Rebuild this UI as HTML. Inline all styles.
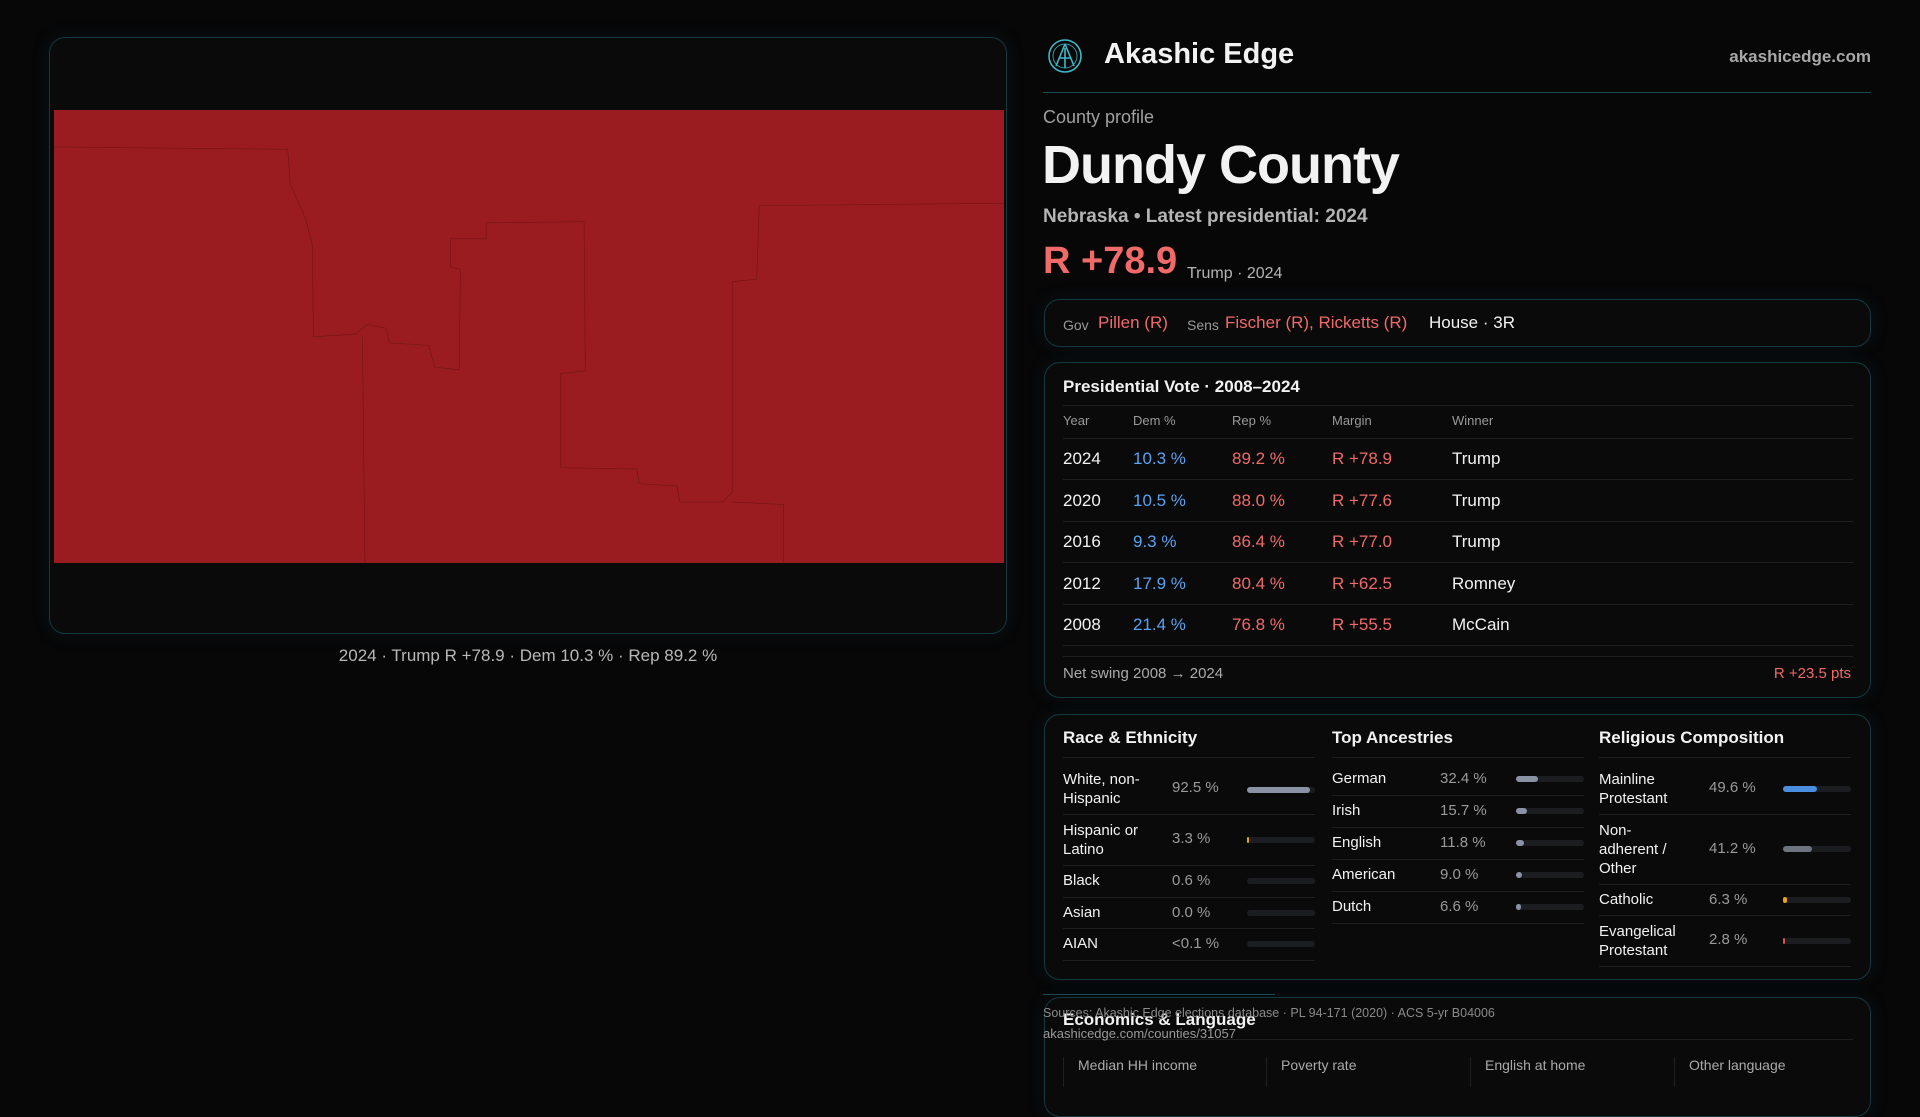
<!DOCTYPE html>
<html><head><meta charset="utf-8"><style>
*{margin:0;padding:0;box-sizing:border-box}
body{width:1920px;height:1080px;background:#070708;color:#f2f2f2;font-family:"Liberation Sans",sans-serif;position:relative;overflow:hidden}
.a{position:absolute;white-space:nowrap}
.box{position:absolute;border:1px solid #163840;border-radius:16px;background:#0a0a0b;box-shadow:0 0 18px rgba(30,90,100,0.15)}
.red{color:#f06a6a}.blue{color:#5aa2f0}.gray{color:#9a9a9a}
.hl{position:absolute;height:1px;background:#1e1f22}
.bar{position:absolute;height:6px;border-radius:3px;background:#1c1d20;width:68px}
.bar i{position:absolute;left:0;top:0;height:6px;border-radius:3px;display:block}
</style></head><body>
<div class="box" style="left:49px;top:37px;width:958px;height:597px;background:#0a0a0b"></div>
<div class="a" style="left:54px;top:110px;width:950px;height:453px;background:#9b1c20"></div>
<svg class="a" style="left:0;top:0" width="1920" height="1080" viewBox="0 0 1568 882" fill="none" stroke="#6e1418" stroke-width="0.6" opacity="0.8">
<polyline points="44,120 235,122 237,150 250,180 255,200 256,275 290,273 300,265 315,268 318,280 350,282 355,300 375,302 376,220 368,218 368,195 397,195 397,182 477,181 478,303 458,305 458,382 520,383 522,395 553,397 555,410 590,410 598,402 598,230 618,228 620,168 820,166"/>
<polyline points="296,275 298,460"/>
<polyline points="598,410 640,412 640,460"/>
</svg>
<div class="a gray" style="left:0;width:1056px;text-align:center;top:646px;font-size:17px;color:#b8b8b8">2024 · Trump R +78.9 · Dem 10.3 % · Rep 89.2 %</div>

<svg class="a" style="left:1047px;top:38px" width="36" height="36" viewBox="0 0 36 36" fill="none" stroke="#3fb8c8" stroke-width="1.6"><circle cx="18" cy="18" r="16"/><circle cx="18" cy="18" r="12" stroke-width="0.8"/><path d="M18 6 L9 28 M18 6 L27 28 M12 20 H24 M18 10 V30"/></svg>
<div class="a" style="left:1104px;top:38px;font-size:29px;font-weight:bold">Akashic Edge</div>
<div class="a" style="right:49px;top:47px;font-size:17px;color:#a8a8a8;font-weight:bold">akashicedge.com</div>
<div class="a" style="left:1043px;top:92px;width:828px;height:1px;background:#1b4a52"></div>
<div class="a" style="left:1043px;top:107px;font-size:18px;color:#a0a0a0">County profile</div>
<div class="a" style="left:1042px;top:134px;font-size:54px;font-weight:bold;letter-spacing:-1px">Dundy County</div>
<div class="a" style="left:1043px;top:206px;font-size:19px;color:#b4b4b4;font-weight:bold">Nebraska • Latest presidential: 2024</div>
<div class="a red" style="left:1043px;top:240px;font-size:38px;font-weight:bold">R +78.9</div>
<div class="a" style="left:1187px;top:265px;font-size:16px;color:#b4b4b4">Trump · 2024</div>

<div class="box" style="left:1044px;top:299px;width:827px;height:48px"></div>
<div class="a" style="left:1063px;top:317px;font-size:14px;color:#999">Gov</div>
<div class="a red" style="left:1098px;top:313px;font-size:17px">Pillen (R)</div>
<div class="a" style="left:1187px;top:317px;font-size:14px;color:#999">Sens</div>
<div class="a red" style="left:1225px;top:313px;font-size:17px">Fischer (R), Ricketts (R)</div>
<div class="a" style="left:1429px;top:313px;font-size:17px">House · 3R</div>

<div class="box" style="left:1044px;top:362px;width:827px;height:336px"></div>
<div class="a" style="left:1063px;top:377px;font-size:17px;font-weight:bold">Presidential Vote · 2008–2024</div>
<div class="hl" style="left:1063px;top:405px;width:790px"></div>
<div class="a" style="left:1063px;top:413px;font-size:13px;color:#999">Year</div>
<div class="a" style="left:1133px;top:413px;font-size:13px;color:#999">Dem %</div>
<div class="a" style="left:1232px;top:413px;font-size:13px;color:#999">Rep %</div>
<div class="a" style="left:1332px;top:413px;font-size:13px;color:#999">Margin</div>
<div class="a" style="left:1452px;top:413px;font-size:13px;color:#999">Winner</div>
<div class="hl" style="left:1063px;top:438px;width:790px"></div>
<div style="position:absolute;left:0;top:449px;font-size:17px">
<div class="a" style="left:1063px;top:0">2024</div><div class="a blue" style="left:1133px;top:0">10.3 %</div><div class="a red" style="left:1232px;top:0">89.2 %</div><div class="a red" style="left:1332px;top:0">R +78.9</div><div class="a" style="left:1452px;top:0">Trump</div>
<div class="a" style="left:1063px;top:42px">2020</div><div class="a blue" style="left:1133px;top:42px">10.5 %</div><div class="a red" style="left:1232px;top:42px">88.0 %</div><div class="a red" style="left:1332px;top:42px">R +77.6</div><div class="a" style="left:1452px;top:42px">Trump</div>
<div class="a" style="left:1063px;top:83px">2016</div><div class="a blue" style="left:1133px;top:83px">9.3 %</div><div class="a red" style="left:1232px;top:83px">86.4 %</div><div class="a red" style="left:1332px;top:83px">R +77.0</div><div class="a" style="left:1452px;top:83px">Trump</div>
<div class="a" style="left:1063px;top:125px">2012</div><div class="a blue" style="left:1133px;top:125px">17.9 %</div><div class="a red" style="left:1232px;top:125px">80.4 %</div><div class="a red" style="left:1332px;top:125px">R +62.5</div><div class="a" style="left:1452px;top:125px">Romney</div>
<div class="a" style="left:1063px;top:166px">2008</div><div class="a blue" style="left:1133px;top:166px">21.4 %</div><div class="a red" style="left:1232px;top:166px">76.8 %</div><div class="a red" style="left:1332px;top:166px">R +55.5</div><div class="a" style="left:1452px;top:166px">McCain</div>
</div>
<div class="hl" style="left:1063px;top:479px;width:790px"></div>
<div class="hl" style="left:1063px;top:521px;width:790px"></div>
<div class="hl" style="left:1063px;top:562px;width:790px"></div>
<div class="hl" style="left:1063px;top:604px;width:790px"></div>
<div class="hl" style="left:1063px;top:645px;width:790px"></div>
<div class="hl" style="left:1063px;top:656px;width:790px"></div>
<div class="a" style="left:1063px;top:665px;font-size:15px;color:#aaa">Net swing 2008 → 2024</div>
<div class="a red" style="right:69px;top:665px;font-size:15px">R +23.5 pts</div>

<div class="box" style="left:1044px;top:714px;width:827px;height:266px"></div>
<div style="font-size:15px">
<div class="a" style="left:1063px;top:728px;font-size:17px;font-weight:bold">Race &amp; Ethnicity</div>
<div class="a" style="left:1332px;top:728px;font-size:17px;font-weight:bold">Top Ancestries</div>
<div class="a" style="left:1599px;top:728px;font-size:17px;font-weight:bold">Religious Composition</div>
<div class="hl" style="left:1063px;top:757px;width:252px"></div><div class="hl" style="left:1332px;top:757px;width:252px"></div><div class="hl" style="left:1599px;top:757px;width:252px"></div>
<div class="a" style="left:1063px;top:770px;line-height:19px">White, non-<br>Hispanic</div><div class="a gray" style="left:1172px;top:779px">92.5 %</div><div class="bar" style="left:1247px;top:787px"><i style="width:63px;background:#8a93a6"></i></div>
<div class="hl" style="left:1063px;top:814px;width:252px"></div>
<div class="a" style="left:1063px;top:821px;line-height:19px">Hispanic or<br>Latino</div><div class="a gray" style="left:1172px;top:830px">3.3 %</div><div class="bar" style="left:1247px;top:837px"><i style="width:2px;background:#e8a317"></i></div>
<div class="hl" style="left:1063px;top:865px;width:252px"></div>
<div class="a" style="left:1063px;top:872px">Black</div><div class="a gray" style="left:1172px;top:872px">0.6 %</div><div class="bar" style="left:1247px;top:878px"></div>
<div class="hl" style="left:1063px;top:897px;width:252px"></div>
<div class="a" style="left:1063px;top:904px">Asian</div><div class="a gray" style="left:1172px;top:904px">0.0 %</div><div class="bar" style="left:1247px;top:910px"></div>
<div class="hl" style="left:1063px;top:928px;width:252px"></div>
<div class="a" style="left:1063px;top:935px">AIAN</div><div class="a gray" style="left:1172px;top:935px">&lt;0.1 %</div><div class="bar" style="left:1247px;top:941px"></div>
<div class="hl" style="left:1063px;top:960px;width:252px"></div>
<div class="a" style="left:1332px;top:770px">German</div><div class="a gray" style="left:1440px;top:770px">32.4 %</div><div class="bar" style="left:1516px;top:776px"><i style="width:22px;background:#8a93a6"></i></div>
<div class="hl" style="left:1332px;top:795px;width:252px"></div>
<div class="a" style="left:1332px;top:802px">Irish</div><div class="a gray" style="left:1440px;top:802px">15.7 %</div><div class="bar" style="left:1516px;top:808px"><i style="width:11px;background:#8a93a6"></i></div>
<div class="hl" style="left:1332px;top:827px;width:252px"></div>
<div class="a" style="left:1332px;top:834px">English</div><div class="a gray" style="left:1440px;top:834px">11.8 %</div><div class="bar" style="left:1516px;top:840px"><i style="width:8px;background:#8a93a6"></i></div>
<div class="hl" style="left:1332px;top:859px;width:252px"></div>
<div class="a" style="left:1332px;top:866px">American</div><div class="a gray" style="left:1440px;top:866px">9.0 %</div><div class="bar" style="left:1516px;top:872px"><i style="width:6px;background:#8a93a6"></i></div>
<div class="hl" style="left:1332px;top:891px;width:252px"></div>
<div class="a" style="left:1332px;top:898px">Dutch</div><div class="a gray" style="left:1440px;top:898px">6.6 %</div><div class="bar" style="left:1516px;top:904px"><i style="width:5px;background:#8a93a6"></i></div>
<div class="hl" style="left:1332px;top:923px;width:252px"></div>
<div class="a" style="left:1599px;top:770px;line-height:19px">Mainline<br>Protestant</div><div class="a gray" style="left:1709px;top:779px">49.6 %</div><div class="bar" style="left:1783px;top:786px"><i style="width:34px;background:#4a8ee0"></i></div>
<div class="hl" style="left:1599px;top:814px;width:252px"></div>
<div class="a" style="left:1599px;top:821px;line-height:19px">Non-<br>adherent /<br>Other</div><div class="a gray" style="left:1709px;top:840px">41.2 %</div><div class="bar" style="left:1783px;top:846px"><i style="width:29px;background:#6e7380"></i></div>
<div class="hl" style="left:1599px;top:884px;width:252px"></div>
<div class="a" style="left:1599px;top:891px">Catholic</div><div class="a gray" style="left:1709px;top:891px">6.3 %</div><div class="bar" style="left:1783px;top:897px"><i style="width:4px;background:#e8a317"></i></div>
<div class="hl" style="left:1599px;top:915px;width:252px"></div>
<div class="a" style="left:1599px;top:922px;line-height:19px">Evangelical<br>Protestant</div><div class="a gray" style="left:1709px;top:931px">2.8 %</div><div class="bar" style="left:1783px;top:938px"><i style="width:2px;background:#e05050"></i></div>
<div class="hl" style="left:1599px;top:966px;width:252px"></div>
</div>

<div class="box" style="left:1044px;top:997px;width:827px;height:120px"></div>
<div class="a" style="left:1043px;top:994px;width:232px;height:1px;background:#1b4a52"></div>
<div class="a" style="left:1063px;top:1010px;font-size:17px;font-weight:bold">Economics &amp; Language</div>
<div class="hl" style="left:1063px;top:1039px;width:790px"></div>
<div class="a" style="left:1063px;top:1057px;width:1px;height:30px;background:#1e1f22"></div>
<div class="a" style="left:1266px;top:1057px;width:1px;height:30px;background:#1e1f22"></div>
<div class="a" style="left:1470px;top:1057px;width:1px;height:30px;background:#1e1f22"></div>
<div class="a" style="left:1674px;top:1057px;width:1px;height:30px;background:#1e1f22"></div>
<div class="a" style="left:1078px;top:1057px;font-size:14px;color:#aaa">Median HH income</div>
<div class="a" style="left:1281px;top:1057px;font-size:14px;color:#aaa">Poverty rate</div>
<div class="a" style="left:1485px;top:1057px;font-size:14px;color:#aaa">English at home</div>
<div class="a" style="left:1689px;top:1057px;font-size:14px;color:#aaa">Other language</div>
<div class="a" style="left:1043px;top:1006px;font-size:12.5px;color:#8a8a8a">Sources: Akashic Edge elections database · PL 94-171 (2020) · ACS 5-yr B04006</div>
<div class="a" style="left:1043px;top:1026px;font-size:13px;color:#9a9a9a">akashicedge.com/counties/31057</div>
</body></html>
